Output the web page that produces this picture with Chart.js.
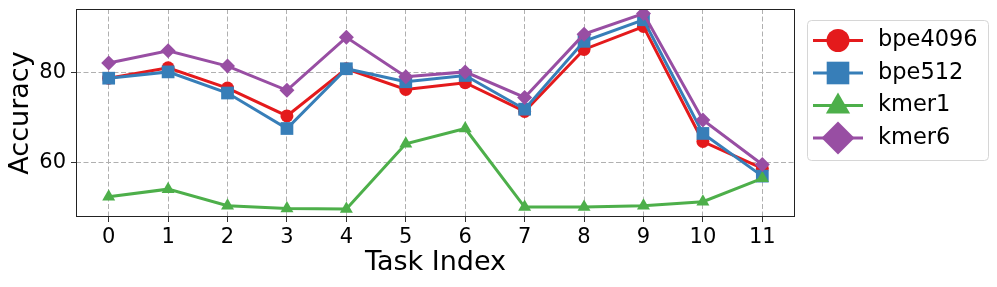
<!DOCTYPE html>
<html><head><meta charset="utf-8">
<script src="https://cdn.jsdelivr.net/npm/chart.js@4/dist/chart.umd.min.js"></script>
<style>html,body{margin:0;padding:0;background:#fff;overflow:hidden}#wrap{width:997px;height:287px}</style>
</head><body><div id="wrap"><canvas id="c" width="997" height="287"></canvas></div>
<script>
const taskIndex = [0,1,2,3,4,5,6,7,8,9,10,11];
const bpe4096 = [78.8, 81.1, 76.6, 70.4, 80.9, 76.3, 77.8, 71.4, 85.2, 90.3, 64.7, 58.7];
const bpe512  = [78.8, 80.2, 75.5, 67.6, 80.9, 78.0, 79.4, 71.9, 87.0, 91.8, 66.5, 57.0];
const kmer1   = [52.4, 54.1, 50.4, 49.8, 49.7, 64.2, 67.6, 50.1, 50.1, 50.4, 51.3, 56.5];
const kmer6   = [82.2, 84.9, 81.5, 76.1, 87.9, 79.1, 80.2, 74.5, 88.6, 93.2, 69.5, 59.6];
const yTicks = [60, 80];
const seriesNames = ['bpe4096', 'bpe512', 'kmer1', 'kmer6'];
const xTitle = 'Task Index';
const yTitle = 'Accuracy';

const FONT = 'DejaVu Sans';
const colors = ['#e41a1c', '#377eb8', '#4daf4a', '#984ea3'];
const styles = ['circle', 'rect', 'triangle', 'rectRot'];
const plotRadius = [6.5, 9, 7.5, 7.5];
const legendRadius = [11.5, 16, 14, 16.5];
const orders = [4, 3, 2, 1];
const seriesValues = [bpe4096, bpe512, kmer1, kmer6];

const datasets = seriesNames.map((name, i) => ({
  label: name,
  data: taskIndex.map((x, j) => ({x: x, y: seriesValues[i][j]})),
  borderColor: colors[i],
  backgroundColor: colors[i],
  pointBackgroundColor: colors[i],
  pointBorderColor: colors[i],
  pointBorderWidth: 0,
  pointStyle: styles[i],
  pointRadius: plotRadius[i],
  pointHoverRadius: plotRadius[i],
  borderWidth: 3,
  tension: 0,
  order: orders[i]
}));

const framePlugin = {
  id: 'frame',
  afterDraw(chart) {
    const {ctx, chartArea: a} = chart;
    ctx.save();
    ctx.strokeStyle = '#222';
    ctx.lineWidth = 1;
    ctx.strokeRect(Math.round(a.left) + 0.5, Math.round(a.top) + 0.5, Math.round(a.right - a.left) - 1, Math.round(a.bottom - a.top) - 1);
    // legend
    const bx = 807.5, by = 20.5, bw = 181, bh = 140, r = 4;
    ctx.beginPath();
    ctx.moveTo(bx + r, by);
    ctx.lineTo(bx + bw - r, by); ctx.quadraticCurveTo(bx + bw, by, bx + bw, by + r);
    ctx.lineTo(bx + bw, by + bh - r); ctx.quadraticCurveTo(bx + bw, by + bh, bx + bw - r, by + bh);
    ctx.lineTo(bx + r, by + bh); ctx.quadraticCurveTo(bx, by + bh, bx, by + bh - r);
    ctx.lineTo(bx, by + r); ctx.quadraticCurveTo(bx, by, bx + r, by);
    ctx.closePath();
    ctx.fillStyle = 'rgba(255,255,255,0.8)';
    ctx.fill();
    ctx.strokeStyle = '#d6d6d6';
    ctx.stroke();
    const rows = [40.5, 73, 105.5, 138];
    chart.data.datasets.forEach((ds, i) => {
      const y = rows[i];
      ctx.strokeStyle = ds.borderColor;
      ctx.lineWidth = 3;
      ctx.beginPath(); ctx.moveTo(813, y); ctx.lineTo(863, y); ctx.stroke();
      ctx.fillStyle = ds.pointBackgroundColor;
      Chart.helpers.drawPoint(ctx, {pointStyle: ds.pointStyle, radius: legendRadius[i], rotation: 0, borderWidth: 0}, 838, y + (ds.pointStyle === 'triangle' ? 1 : 0));
      ctx.fillStyle = '#000';
      ctx.font = '22.5px "' + FONT + '"';
      ctx.textBaseline = 'middle';
      ctx.textAlign = 'left';
      ctx.fillText(ds.label, 878, y);
    });
    ctx.restore();
  }
};

new Chart(document.getElementById('c'), {
  type: 'line',
  data: {datasets: datasets},
  plugins: [framePlugin],
  options: {
    responsive: false,
    devicePixelRatio: 1,
    animation: false,
    layout: {padding: {left: 0, top: 7, right: 202, bottom: 0}},
    plugins: {legend: {display: false}, tooltip: {enabled: false}},
    scales: {
      x: {
        type: 'linear', min: -0.55, max: 11.55,
        afterBuildTicks: (s) => { s.ticks = taskIndex.map(v => ({value: v})); },
        afterFit: (s) => { s.height = 70; s.paddingLeft = 0; s.paddingRight = 0; },
        grid: {color: '#b0b0b0', lineWidth: 1, drawTicks: true, tickLength: 5, tickColor: '#333', tickWidth: 1},
        border: {display: false, dash: [5, 2.5]},
        ticks: {font: {family: FONT, size: 21}, color: '#000', padding: 3, maxRotation: 0, autoSkip: false},
        title: {display: true, text: xTitle, font: {family: FONT, size: 27}, color: '#000', padding: {top: 0, bottom: 8}}
      },
      y: {
        type: 'linear', min: 47.9, max: 94.2,
        afterBuildTicks: (s) => { s.ticks = yTicks.map(v => ({value: v})); },
        afterFit: (s) => { s.width = 76; s.paddingTop = 0; s.paddingBottom = 0; },
        grid: {color: '#b0b0b0', lineWidth: 1, drawTicks: true, tickLength: 5, tickColor: '#333', tickWidth: 1},
        border: {display: false, dash: [5, 2.5]},
        ticks: {font: {family: FONT, size: 21}, color: '#000', padding: 5},
        title: {display: true, text: yTitle, font: {family: FONT, size: 27}, color: '#000', padding: {top: 5, bottom: 0}}
      }
    }
  }
});
</script>
</body></html>
